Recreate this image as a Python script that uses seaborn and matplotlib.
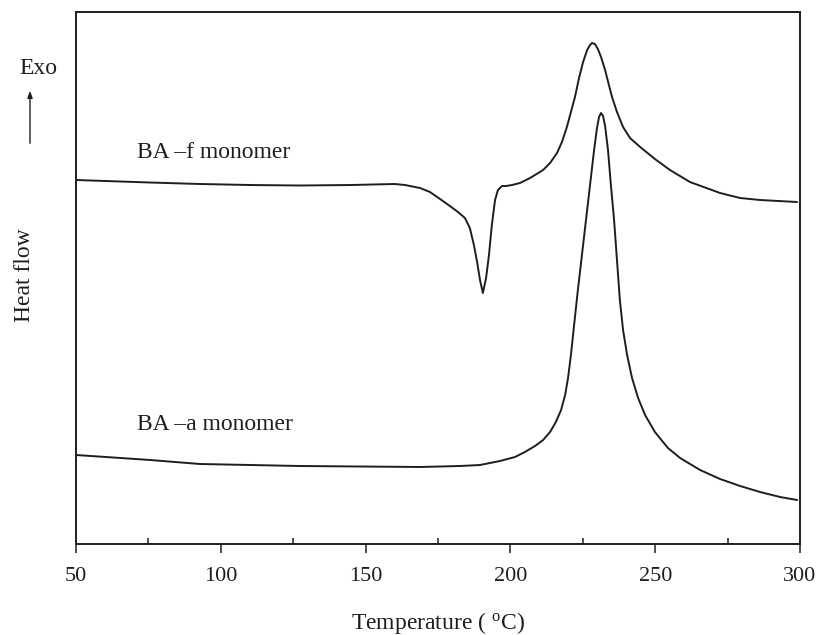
import matplotlib
matplotlib.use("Agg")
import matplotlib.pyplot as plt
import matplotlib.patches as mpatches
import seaborn as sns
import pandas as pd
from matplotlib.ticker import MultipleLocator

# ---- data (heat flow in arbitrary units) ----
temp_f = [50, 75.5, 92.8, 110, 127.3, 145, 160, 163.6, 168.8, 172.2, 175.7, 179.1,
          181.9, 184.3, 186.0, 187.4, 188.5, 189.5, 190.5, 191.6, 192.6, 193.6,
          194.7, 195.7, 197.1, 198.5, 200.6, 203.3, 206.8, 211.3, 213.7, 216.1,
          217.8, 219.5, 220.9, 222.3, 223.7, 225.1, 226.5, 227.5, 228.2, 229.2,
          230.2, 231.3, 232.7, 234.1, 235.1, 236.8, 238.9, 241.3, 244.8, 249.9,
          255.1, 262.0, 272.4, 279.3, 286.2, 299.0]
heat_f = [3.64, 3.615, 3.60, 3.59, 3.585, 3.59, 3.60, 3.59, 3.56, 3.52, 3.45, 3.38,
          3.32, 3.26, 3.16, 2.99, 2.82, 2.64, 2.51, 2.66, 2.89, 3.19,
          3.44, 3.54, 3.58, 3.58, 3.59, 3.61, 3.66, 3.74, 3.81, 3.91,
          4.02, 4.17, 4.32, 4.47, 4.66, 4.82, 4.94, 4.99, 5.01, 5.00,
          4.95, 4.87, 4.74, 4.58, 4.47, 4.32, 4.17, 4.06, 3.97, 3.85,
          3.74, 3.62, 3.51, 3.46, 3.44, 3.42]

temp_a = [50, 75.6, 92.8, 127.3, 168.8, 182.6, 189.5, 196.4, 201.6, 205.0, 208.5,
          211.3, 213.7, 215.7, 217.5, 218.9, 219.9, 220.9, 222.0, 223.3, 224.7,
          226.1, 227.5, 228.9, 229.9, 230.6, 231.3, 232.0, 232.7, 233.7, 234.7,
          235.8, 236.8, 237.8, 238.9, 240.3, 242.0, 244.1, 246.5, 249.9, 254.4,
          258.6, 265.5, 272.4, 279.3, 286.2, 293.1, 299.0]
heat_a = [0.89, 0.84, 0.80, 0.78, 0.77, 0.78, 0.79, 0.83, 0.87, 0.92, 0.98,
          1.04, 1.12, 1.22, 1.34, 1.49, 1.66, 1.89, 2.19, 2.54, 2.89,
          3.24, 3.59, 3.94, 4.16, 4.27, 4.31, 4.28, 4.18, 3.94, 3.59,
          3.24, 2.84, 2.44, 2.14, 1.89, 1.66, 1.46, 1.29, 1.12, 0.96,
          0.86, 0.74, 0.65, 0.58, 0.52, 0.47, 0.44]

labels = ["BA \u2013f monomer", "BA \u2013a monomer"]
x_ticks = [50, 100, 150, 200, 250, 300]

df = pd.concat([
    pd.DataFrame({"Temperature": temp_f, "Heat flow": heat_f, "sample": labels[0]}),
    pd.DataFrame({"Temperature": temp_a, "Heat flow": heat_a, "sample": labels[1]}),
])

sns.set_style("white")
plt.rcParams["font.family"] = ["Liberation Serif", "DejaVu Serif"]
plt.rcParams["mathtext.fontset"] = "custom"
plt.rcParams["mathtext.rm"] = "Liberation Serif"
plt.rcParams["mathtext.it"] = "Liberation Serif:italic"

ink = "#1e1e1e"
fig = plt.figure(figsize=(8.17, 6.35), dpi=100)
ax = fig.add_axes([76 / 817, 1 - 544 / 635, (800 - 76) / 817, (544 - 12) / 635])

sns.lineplot(data=df, x="Temperature", y="Heat flow", hue="sample",
             palette=[ink, ink], estimator=None, sort=False,
             linewidth=1.4, legend=False, ax=ax)

ax.set_xlim(50, 300)
ax.set_ylim(0, 5.32)
ax.set_xticks(x_ticks)
ax.set_xticklabels([str(t) for t in x_ticks])
ax.xaxis.set_minor_locator(MultipleLocator(25))
ax.tick_params(axis="x", which="both", bottom=True, top=False)
ax.tick_params(axis="x", which="major", direction="out", length=6.5, width=1.1,
               pad=10, labelsize=16, color=ink, labelcolor=ink)
ax.tick_params(axis="x", which="minor", direction="in", length=4, width=1.1,
               color=ink)
ax.set_yticks([])
for s in ax.spines.values():
    s.set_linewidth(1.4)
    s.set_color(ink)
    s.set_visible(True)

ax.set_xlabel("Temperature ( $^{\\mathrm{o}}$C)", fontsize=17, color=ink)
ax.xaxis.label.set_va("center")
ax.xaxis.set_label_coords(0.5, -79 / 532)
ax.set_ylabel("")

fig.text(25 / 817, 1 - 275 / 635, "Heat flow", rotation=90, fontsize=17,
         ha="center", va="center", color=ink)
fig.text(38 / 817, 1 - 68 / 635, "Exo", fontsize=17, ha="center", va="center",
         color=ink)
fig.add_artist(mpatches.FancyArrowPatch(
    (30 / 817, 1 - 146 / 635), (30 / 817, 1 - 88 / 635),
    transform=fig.transFigure, arrowstyle="-|>,head_length=4,head_width=1.5",
    color=ink, linewidth=1.0))

ax.text(71, 3.91, labels[0], fontsize=17, ha="left", va="center", color=ink)
ax.text(71, 1.19, labels[1], fontsize=17, ha="left", va="center", color=ink)

fig.savefig("out.png", dpi=100)
